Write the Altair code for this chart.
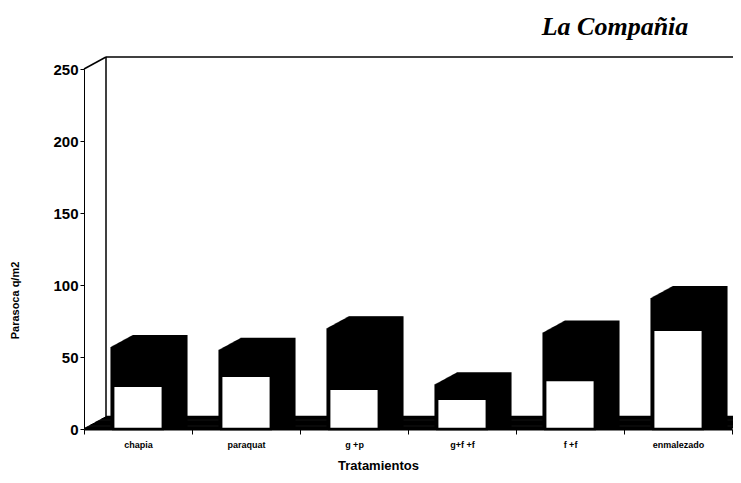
import altair as alt
import pandas as pd

categories = ["chapia", "paraquat", "g +p", "g+f +f", "f +f", "enmalezado"]
white_vals = [30, 37, 28, 21, 34, 69]
black_vals = [27, 18, 42, 10, 33, 22]

df = pd.DataFrame({"cat": categories, "white": white_vals, "black": black_vals})
df["total"] = df["white"] + df["black"]

W, H = 648, 360
DX, DY = 22, 12
N = 22

xenc = alt.X("cat:N", sort=categories, title="Tratamientos",
             scale=alt.Scale(paddingInner=0, paddingOuter=0),
             axis=alt.Axis(labelAngle=0, labelFont="Liberation Sans", labelFontWeight="bold",
                           labelFontSize=9, labelColor="black", labelPadding=6,
                           tickBand="extent", tickColor="black", tickSize=5,
                           domainColor="black", domainWidth=2,
                           titleFont="Liberation Sans", titleFontWeight="bold", titleFontSize=13,
                           titleColor="black", titleX=294, titleY=30))
yscale = alt.Scale(domain=[0, 250])

base = alt.Chart(df)
one = alt.Chart(pd.DataFrame({"a": [0]}))

# floor of the 3D frame
floor_layers = []
for k in range(N + 1):
    floor_layers.append(
        one.mark_rect(color="black").encode(
            x=alt.value(k * DX / N), x2=alt.value(W + k * DX / N),
            y=alt.value(H - (k + 1) * DY / N - 0.6), y2=alt.value(H - k * DY / N)))

# back wall lines
wall_v = one.mark_rule(color="black", strokeWidth=1.5).encode(
    x=alt.value(DX), y=alt.value(-DY), y2=alt.value(H - DY))
wall_top = one.mark_rule(color="black", strokeWidth=1.5).encode(
    x=alt.value(DX), x2=alt.value(W + 60), y=alt.value(-DY))
wall_slant = one.mark_rule(color="black", strokeWidth=1.5).encode(
    x=alt.value(0), x2=alt.value(DX), y=alt.value(0), y2=alt.value(-DY))

depth = []
for k in range(N, 0, -1):
    depth.append(base.mark_bar(color="black", width={"band": 0.51},
                               xOffset=k * DX / N, yOffset=-k * DY / N).encode(
        x=xenc, y=alt.Y("total:Q", scale=yscale), y2=alt.datum(0)))

front_black = base.mark_bar(color="black", width={"band": 0.51}).encode(
    x=xenc,
    y=alt.Y("total:Q", scale=yscale, title="Parasoca q/m2",
            axis=alt.Axis(values=[0, 50, 100, 150, 200, 250], labelFont="Liberation Sans",
                          labelFontWeight="bold", labelFontSize=15, labelColor="black",
                          tickColor="black", tickSize=4, domainColor="black",
                          grid=False, titleFont="Liberation Sans", titleFontWeight="bold",
                          titleFontSize=11, titleColor="black", titleX=-64, titleY=231)),
    y2=alt.datum(0))
front_white = base.mark_bar(color="white", stroke="black", strokeWidth=2.5,
                            width={"band": 0.46}).encode(
    x=xenc, y=alt.Y("white:Q", scale=yscale), y2=alt.datum(0))

title = one.mark_text(text="La Compañia", font="Liberation Serif", fontStyle="italic",
                      fontWeight="bold", fontSize=26, color="black", align="center",
                      baseline="middle").encode(
    x=alt.value(531), y=alt.value(-42))

chart = alt.layer(*floor_layers, wall_v, wall_top, wall_slant, *depth,
                  front_black, front_white, title).properties(
    width=W, height=H,
    autosize=alt.AutoSizeParams(type="none"),
    padding={"left": 76, "top": 61, "right": 1, "bottom": 46},
).configure_view(stroke=None).configure_axis(grid=False)

chart.save("out.html", embed_options={"renderer": "svg", "actions": False})
